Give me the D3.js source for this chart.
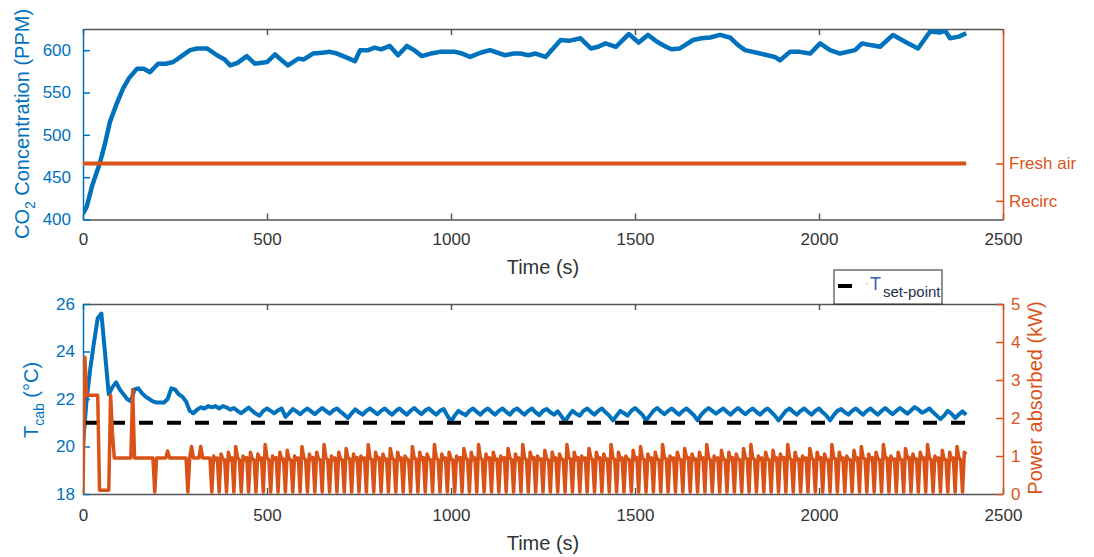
<!DOCTYPE html>
<html>
<head>
<meta charset="utf-8">
<script src="https://cdn.jsdelivr.net/npm/d3@7"></script>
<style>
  body { margin: 0; background: #fff; }
  svg text { font-family: "Liberation Sans", Arial, sans-serif; }
</style>
</head>
<body>
<div id="chart"></div>
<script>
// ---- data ----
const xTicks = [0, 500, 1000, 1500, 2000, 2500];
const co2Ticks = [400, 450, 500, 550, 600];
const ventTicks = [0, 1];
const ventNames = ['Recirc', 'Fresh air'];
const tempTicks = [18, 20, 22, 24, 26];
const powerTicks = [0, 1, 2, 3, 4, 5];

// CO2 concentration (PPM), key points
const co2Time = [0, 10, 25, 46, 60, 73, 90, 109, 125, 147, 165, 182, 204, 225, 245, 265, 291, 310, 337, 364,
  385, 400, 420, 445, 467, 500, 522, 540, 557, 585, 600, 625, 650, 671, 690, 712, 739, 753, 775, 793,
  810, 834, 856, 880, 900, 921, 945, 970, 1011, 1030, 1052, 1080, 1106, 1147, 1170, 1189, 1210, 1230, 1257, 1298,
  1320, 1352, 1380, 1400, 1420, 1448, 1483, 1510, 1535, 1560, 1584, 1600, 1622, 1658, 1680, 1704, 1731, 1758, 1780, 1799,
  1840, 1860, 1880, 1894, 1921, 1948, 1976, 2003, 2030, 2057, 2098, 2117, 2140, 2166, 2201, 2234, 2269, 2302, 2329, 2343,
  2356, 2380, 2400];
const co2Value = [407, 415, 440, 467, 490, 515, 535, 555, 567, 578, 578, 574, 584, 584, 586, 592, 600, 602, 602, 594,
  589, 582, 585, 593, 584, 586, 595, 588, 582, 590, 589, 596, 597, 598, 596, 592, 587, 600, 600, 603,
  601, 605, 594, 605, 600, 593, 596, 598, 598, 596, 592, 597, 600, 594, 596, 596, 594, 596, 592, 612,
  611, 614, 602, 604, 608, 604, 619, 609, 618, 610, 604, 601, 602, 612, 614, 615, 618, 615, 606, 600,
  596, 594, 592, 588, 598, 598, 596, 608, 600, 596, 600, 608, 606, 604, 618, 610, 602, 622, 621, 623,
  614, 616, 620];

// ventilation mode (1 = fresh air)
const ventTime = [0, 2400];
const ventValue = [1, 1];

// cabin temperature (°C), one value every 10 s
const tempStep = 10;
const tempValue = [
  20.1, 22.0, 23.3, 24.4, 25.4, 25.6, 23.9, 22.2, 22.5, 22.7,
  22.4, 22.2, 22.0, 21.9, 22.4, 22.45, 22.25, 22.1, 22.0, 21.9,
  21.85, 21.85, 21.85, 22.0, 22.45, 22.4, 22.2, 22.1, 21.9, 21.5,
  21.4, 21.55, 21.65, 21.6, 21.7, 21.65, 21.7, 21.6, 21.7, 21.65,
  21.55,
  21.62, 21.5, 21.4, 21.52, 21.64, 21.5, 21.38, 21.3, 21.5, 21.6,
  21.5, 21.4, 21.52, 21.6, 21.25, 21.4, 21.58, 21.48, 21.36, 21.5,
  21.6, 21.48, 21.36, 21.5, 21.62, 21.5, 21.38, 21.52, 21.6, 21.46,
  21.34, 21.2, 21.4, 21.56, 21.44, 21.34, 21.5, 21.6, 21.48, 21.36,
  21.5, 21.6, 21.46, 21.34, 21.5, 21.6, 21.46, 21.34, 21.5, 21.62,
  21.48, 21.36, 21.52, 21.6, 21.46, 21.34, 21.5, 21.58, 21.3, 21.05,
  21.3, 21.5, 21.4, 21.32, 21.5, 21.6, 21.46, 21.34, 21.5, 21.6,
  21.46, 21.34, 21.5, 21.6, 21.46, 21.34, 21.52, 21.6, 21.46, 21.34,
  21.5, 21.6, 21.44, 21.32, 21.5, 21.58, 21.44, 21.34, 21.48, 21.28,
  21.06, 21.3, 21.5, 21.38, 21.3, 21.5, 21.6, 21.46, 21.34, 21.5,
  21.6, 21.44, 21.3, 21.1, 21.3, 21.5, 21.4, 21.3, 21.5, 21.62,
  21.48, 21.34, 21.1, 21.3, 21.5, 21.62, 21.48, 21.36, 21.5, 21.6,
  21.46, 21.34, 21.5, 21.6, 21.46, 21.32, 21.1, 21.34, 21.5, 21.62,
  21.5, 21.38, 21.5, 21.6, 21.46, 21.34, 21.5, 21.62, 21.48, 21.36,
  21.5, 21.6, 21.46, 21.34, 21.5, 21.6, 21.46, 21.3, 21.1, 21.3,
  21.5, 21.6, 21.46, 21.34, 21.5, 21.6, 21.46, 21.34, 21.5, 21.6,
  21.44, 21.3, 21.1, 21.32, 21.5, 21.58, 21.44, 21.34, 21.5, 21.6,
  21.46, 21.34, 21.5, 21.6, 21.46, 21.34, 21.5, 21.62, 21.48, 21.36,
  21.5, 21.62, 21.5, 21.38, 21.52, 21.66, 21.56, 21.42, 21.5, 21.6,
  21.44, 21.3, 21.15, 21.3, 21.5, 21.38, 21.2, 21.35, 21.48, 21.33
];

// set-point
const setPointTime = [0, 2400];
const setPointValue = [21, 21];

// absorbed power (kW), one value every 5 s
const powerStep = 5;
const powerValue = [
  0, 3.6, 2.6, 2.6, 2.6, 2.6, 2.6, 2.6, 2.6, 0.1,
  0.1, 0.1, 0.1, 0.1, 0.1, 2.6, 1.6, 0.95, 0.95, 0.95,
  0.95, 0.95, 0.95, 0.95, 0.95, 0.95, 0.95, 2.75, 0.95, 0.95,
  0.95, 0.95, 0.95, 0.95, 0.95, 0.95, 0.95, 0.95, 0.95, 0.05,
  0.95, 0.95, 0.95, 0.95, 0.95, 0.95, 1.13, 0.95, 0.95, 0.95,
  0.95, 0.95, 0.95, 0.95, 0.95, 0.95, 0.95, 0.05, 0.95, 1.25,
  0.95, 0.95, 0.95, 0.95, 1.25, 0.95, 0.95, 0.95, 0.95, 0.95,
  0.05,1.0,0.9,0.95, 0.05,1.05,0.92,0.9, 0.05,1.1,0.9,0.95, 0.05,1.25,0.95,0.9, 0.05,1.0,0.9,0.96,
  0.05,1.1,0.92,0.9, 0.05,1.05,0.9,0.95, 0.05,1.3,0.95,0.9, 0.05,1.0,0.92,0.96, 0.05,1.1,0.9,0.92,
  0.05,1.15,0.92,0.9, 0.05,1.0,0.9,0.95, 0.05,1.25,0.95,0.9, 0.05,1.05,0.9,0.96, 0.05,1.1,0.92,0.9,
  0.05,1.3,0.95,0.9, 0.05,1.0,0.9,0.95, 0.05,1.1,0.92,0.9, 0.05,1.2,0.95,0.92, 0.05,1.05,0.9,0.96,
  0.05,1.0,0.9,0.95, 0.05,1.3,0.95,0.9, 0.05,1.1,0.92,0.95, 0.05,1.05,0.9,0.92, 0.05,1.2,0.95,0.9,
  0.05,1.1,0.9,0.95, 0.05,1.0,0.92,0.9, 0.05,1.25,0.95,0.92, 0.05,1.1,0.9,0.96, 0.05,1.05,0.92,0.9,
  0.05,1.3,0.95,0.9, 0.05,1.05,0.9,0.95, 0.05,1.1,0.92,0.9, 0.05,1.0,0.9,0.96, 0.05,1.2,0.95,0.9,
  0.05,1.1,0.9,0.95, 0.05,1.3,0.95,0.9, 0.05,1.05,0.92,0.95, 0.05,1.1,0.9,0.92, 0.05,1.0,0.9,0.96,
  0.05,1.2,0.95,0.9, 0.05,1.05,0.9,0.95, 0.05,1.3,0.95,0.9, 0.05,1.1,0.92,0.96, 0.05,1.0,0.9,0.92,
  0.05,1.15,0.92,0.9, 0.05,1.1,0.9,0.95, 0.05,1.05,0.92,0.9, 0.05,1.3,0.95,0.92, 0.05,1.1,0.9,0.96,
  0.05,1.0,0.9,0.95, 0.05,1.2,0.95,0.9, 0.05,1.1,0.92,0.95, 0.05,1.05,0.9,0.92, 0.05,1.3,0.95,0.9,
  0.05,1.1,0.9,0.95, 0.05,1.0,0.92,0.9, 0.05,1.15,0.9,0.96, 0.05,1.25,0.95,0.9, 0.05,1.05,0.9,0.95,
  0.05,1.1,0.92,0.9, 0.05,1.3,0.95,0.92, 0.05,1.0,0.9,0.95, 0.05,1.1,0.92,0.9, 0.05,1.2,0.95,0.96,
  0.05,1.05,0.9,0.92, 0.05,1.1,0.92,0.95, 0.05,1.3,0.95,0.9, 0.05,1.0,0.9,0.95, 0.05,1.15,0.92,0.9,
  0.05,1.1,0.9,0.96, 0.05,1.05,0.92,0.9, 0.05,1.2,0.95,0.92, 0.05,1.3,0.95,0.9, 0.05,1.0,0.9,0.95,
  0.05,1.1,0.92,0.9, 0.05,1.15,0.9,0.95, 0.05,1.05,0.92,0.96, 0.05,1.3,0.95,0.9, 0.05,1.1,0.9,0.92,
  0.05,1.0,0.9,0.95, 0.05,1.2,0.95,0.9, 0.05,1.1,0.92,0.96, 0.05,1.05,0.9,0.9, 0.05,1.3,0.95,0.92,
  0.05,1.1,0.9,0.95, 0.05,1.0,0.92,0.9, 0.05,1.15,0.9,0.95, 0.05,1.25,0.95,0.92, 0.05,1.05,0.9,0.96,
  0.05,1.1,0.92,0.9, 0.05,1.3,0.95,0.95, 0.05,1.0,0.9,0.92, 0.05,1.1,0.92,0.9, 0.05,1.2,0.95,0.96,
  0.05,1.05,0.9,0.92, 0.05,1.1,0.92,0.95, 0.05,1.3,0.95,0.9, 0.05,1.0,0.9,0.95, 0.05,1.15,0.92,0.9,
  0.05,1.1,0.9,0.95, 0.05,1.25,0.95,0.9,
  0.05, 1.1, 1.05
];

// ---- drawing ----
const blue = '#0072BD';
const orange = '#D95319';
const axisGrey = '#555';

const w = 1094, h = 557;
const left = 83, right = 1003;
const top1 = 29, bot1 = 219.5;
const top2 = 304, bot2 = 494;

const svg = d3.select('#chart')
  .append('svg')
  .attr('width', w)
  .attr('height', h);

svg.append('rect').attr('width', w).attr('height', h).attr('fill', '#fff');

const x = d3.scaleLinear().domain([0, 2500]).range([left, right]);
const yCo2 = d3.scaleLinear().domain([400, 625]).range([bot1, top1]);
const yVent = d3.scaleLinear().domain([-0.5, 4.6]).range([bot1, top1]);
const yTemp = d3.scaleLinear().domain([18, 26]).range([bot2, top2]);
const yPow = d3.scaleLinear().domain([0, 5]).range([bot2, top2]);

function pairs(times, values) {
  return values.map((v, i) => ({ t: times[i], v: v }));
}
function stepped(step, values) {
  return values.map((v, i) => ({ t: i * step, v: v }));
}

function clip(id, top, bot) {
  svg.append('clipPath').attr('id', id)
    .append('rect')
    .attr('x', left).attr('y', top)
    .attr('width', right - left).attr('height', bot - top);
}
clip('clipTop', top1, bot1);
clip('clipBot', top2, bot2);

function styleAxis(g, color, size) {
  g.select('.domain').attr('stroke', color).attr('stroke-width', 1.5);
  g.selectAll('.tick line').attr('stroke', color).attr('stroke-width', 1.5);
  g.selectAll('.tick text')
    .attr('fill', color)
    .attr('font-size', size)
    .style('font-family', '"Liberation Sans", Arial, sans-serif');
}

function drawFrame(top, bot, yl, yr, ylTicks, yrTicks, yrFormat, padX, padL, padR) {
  // top border with inward ticks
  let gTop = svg.append('g')
    .attr('transform', 'translate(0,' + top + ')')
    .call(d3.axisTop(x).tickValues(xTicks).tickSize(-6).tickSizeOuter(0).tickFormat(''));
  styleAxis(gTop, axisGrey, 17);

  let gBot = svg.append('g')
    .attr('transform', 'translate(0,' + bot + ')')
    .call(d3.axisBottom(x).tickValues(xTicks).tickSize(-6).tickSizeOuter(0)
      .tickPadding(padX).tickFormat(d3.format('d')));
  styleAxis(gBot, axisGrey, 17);
  gBot.selectAll('.tick text').attr('fill', '#333');

  let gL = svg.append('g')
    .attr('transform', 'translate(' + left + ',0)')
    .call(d3.axisLeft(yl).tickValues(ylTicks).tickSize(-7).tickSizeOuter(0).tickPadding(padL));
  styleAxis(gL, blue, 17);

  let gR = svg.append('g')
    .attr('transform', 'translate(' + right + ',0)')
    .call(d3.axisRight(yr).tickValues(yrTicks).tickSize(-7).tickSizeOuter(0).tickPadding(padR).tickFormat(yrFormat));
  styleAxis(gR, orange, 17);
}

drawFrame(top1, bot1, yCo2, yVent, co2Ticks, ventTicks, (d, i) => ventNames[i], 13, 12, 6);
drawFrame(top2, bot2, yTemp, yPow, tempTicks, powerTicks, d3.format('d'), 15, 8, 8);

// top plot lines
const co2Line = d3.line().x(d => x(d.t)).y(d => yCo2(d.v));
const ventLine = d3.line().x(d => x(d.t)).y(d => yVent(d.v));

svg.append('path')
  .datum(pairs(co2Time, co2Value))
  .attr('d', co2Line)
  .attr('clip-path', 'url(#clipTop)')
  .attr('fill', 'none')
  .attr('stroke', blue)
  .attr('stroke-width', 4.5)
  .attr('stroke-linejoin', 'round');

svg.append('path')
  .datum(pairs(ventTime, ventValue))
  .attr('d', ventLine)
  .attr('clip-path', 'url(#clipTop)')
  .attr('fill', 'none')
  .attr('stroke', orange)
  .attr('stroke-width', 4);

// bottom plot lines
const tempLine = d3.line().x(d => x(d.t)).y(d => yTemp(d.v));
const powLine = d3.line().x(d => x(d.t)).y(d => yPow(d.v));

svg.append('path')
  .datum(stepped(tempStep, tempValue))
  .attr('d', tempLine)
  .attr('clip-path', 'url(#clipBot)')
  .attr('fill', 'none')
  .attr('stroke', blue)
  .attr('stroke-width', 4)
  .attr('stroke-linejoin', 'round');

svg.append('path')
  .datum(pairs(setPointTime, setPointValue))
  .attr('d', tempLine)
  .attr('fill', 'none')
  .attr('stroke', '#000')
  .attr('stroke-width', 4)
  .attr('stroke-dasharray', '14,14');

svg.append('path')
  .datum(stepped(powerStep, powerValue))
  .attr('d', powLine)
  .attr('clip-path', 'url(#clipBot)')
  .attr('fill', 'none')
  .attr('stroke', orange)
  .attr('stroke-width', 3.5)
  .attr('stroke-linejoin', 'round');

// axis titles
svg.append('text')
  .attr('x', 543).attr('y', 274)
  .attr('text-anchor', 'middle')
  .attr('font-size', 20)
  .attr('fill', '#333')
  .text('Time (s)');

svg.append('text')
  .attr('x', 543).attr('y', 550)
  .attr('text-anchor', 'middle')
  .attr('font-size', 20)
  .attr('fill', '#333')
  .text('Time (s)');

let co2Label = svg.append('text')
  .attr('transform', 'translate(29,124) rotate(-90)')
  .attr('text-anchor', 'middle')
  .attr('font-size', 20)
  .attr('fill', blue);
co2Label.append('tspan').text('CO');
co2Label.append('tspan').attr('font-size', 14).attr('dy', 6).text('2');
co2Label.append('tspan').attr('dy', -6).text(' Concentration (PPM)');

let tLabel = svg.append('text')
  .attr('transform', 'translate(38,400) rotate(-90)')
  .attr('text-anchor', 'middle')
  .attr('font-size', 20)
  .attr('fill', blue);
tLabel.append('tspan').text('T');
tLabel.append('tspan').attr('font-size', 14).attr('dy', 6).text('cab');
tLabel.append('tspan').attr('dy', -6).text(' (°C)');

svg.append('text')
  .attr('transform', 'translate(1042,398) rotate(-90)')
  .attr('text-anchor', 'middle')
  .attr('font-size', 20)
  .attr('fill', orange)
  .text('Power absorbed (kW)');

// legend
let legend = svg.append('g');
legend.append('rect')
  .attr('x', 834).attr('y', 270)
  .attr('width', 108).attr('height', 34)
  .attr('fill', '#fff')
  .attr('stroke', '#222')
  .attr('stroke-width', 1);
legend.append('line')
  .attr('x1', 838).attr('x2', 852)
  .attr('y1', 286).attr('y2', 286)
  .attr('stroke', '#000')
  .attr('stroke-width', 4);
legend.append('text')
  .attr('x', 865).attr('y', 287)
  .attr('font-size', 12)
  .attr('fill', '#aaa')
  .text('·');
legend.append('text')
  .attr('x', 870).attr('y', 290)
  .attr('font-size', 18)
  .attr('fill', '#2f62b5')
  .text('T');
legend.append('text')
  .attr('x', 883).attr('y', 297)
  .attr('font-size', 15)
  .attr('fill', '#23324f')
  .text('set-point');
</script>
</body>
</html>
